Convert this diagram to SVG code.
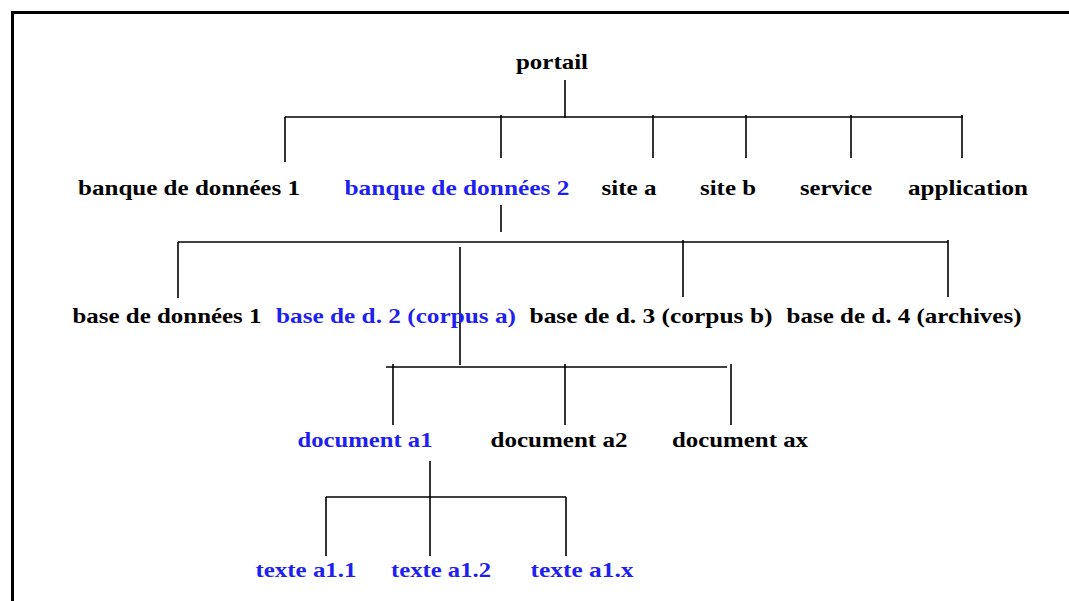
<svg xmlns="http://www.w3.org/2000/svg" width="1069" height="601" viewBox="0 0 1069 601">
<style>
text{font-family:'Liberation Serif', 'DejaVu Serif', serif;font-weight:700;font-size:21px;fill:#000;text-anchor:middle}
text.b{fill:#1f1fef}
.c line{stroke:#000;stroke-width:1.6}
</style>
<rect width="1069" height="601" fill="#fff"/>
<path d="M12.5,601 V12.5 H1069" fill="none" stroke="#000" stroke-width="3"/>
<g class="c" id="connectors">
<line x1="565" y1="80" x2="565" y2="118"/>
<line x1="285" y1="117" x2="963" y2="117"/>
<line x1="285" y1="117" x2="285" y2="162"/>
<line x1="501" y1="115" x2="501" y2="158"/>
<line x1="653" y1="115" x2="653" y2="158"/>
<line x1="746" y1="115" x2="746" y2="158"/>
<line x1="851" y1="115" x2="851" y2="158"/>
<line x1="962" y1="115" x2="962" y2="158"/>
<line x1="501" y1="205" x2="501" y2="232"/>
<line x1="178" y1="242" x2="948" y2="242"/>
<line x1="178" y1="242" x2="178" y2="298"/>
<line x1="460" y1="247" x2="460" y2="365"/>
<line x1="683" y1="240" x2="683" y2="297"/>
<line x1="948" y1="240" x2="948" y2="297"/>
<line x1="386" y1="367" x2="727" y2="367"/>
<line x1="393" y1="364" x2="393" y2="425"/>
<line x1="565" y1="364" x2="565" y2="425"/>
<line x1="731" y1="364" x2="731" y2="425"/>
<line x1="430" y1="461" x2="430" y2="556"/>
<line x1="326" y1="497" x2="566" y2="497"/>
<line x1="326" y1="497" x2="326" y2="556"/>
<line x1="566" y1="497" x2="566" y2="556"/>
</g>
<g id="portail"><text x="552" y="69" textLength="72" lengthAdjust="spacingAndGlyphs">portail</text></g>
<g id="bdd1"><text x="189" y="195" textLength="222" lengthAdjust="spacingAndGlyphs">banque de données 1</text></g>
<g id="bdd2"><text class="b" x="457" y="195" textLength="225" lengthAdjust="spacingAndGlyphs">banque de données 2</text></g>
<g id="sitea"><text x="629" y="195" textLength="55" lengthAdjust="spacingAndGlyphs">site a</text></g>
<g id="siteb"><text x="728" y="195" textLength="56" lengthAdjust="spacingAndGlyphs">site b</text></g>
<g id="service"><text x="836" y="195" textLength="72" lengthAdjust="spacingAndGlyphs">service</text></g>
<g id="application"><text x="968" y="195" textLength="120" lengthAdjust="spacingAndGlyphs">application</text></g>
<g id="base1"><text x="167" y="323" textLength="189" lengthAdjust="spacingAndGlyphs">base de données 1</text></g>
<g id="base2"><text class="b" x="396" y="323" textLength="240" lengthAdjust="spacingAndGlyphs">base de d. 2 (corpus a)</text></g>
<g id="base3"><text x="651" y="323" textLength="243" lengthAdjust="spacingAndGlyphs">base de d. 3 (corpus b)</text></g>
<g id="base4"><text x="904" y="323" textLength="235" lengthAdjust="spacingAndGlyphs">base de d. 4 (archives)</text></g>
<g id="doca1"><text class="b" x="365" y="447" textLength="135" lengthAdjust="spacingAndGlyphs">document a1</text></g>
<g id="doca2"><text x="559" y="447" textLength="137" lengthAdjust="spacingAndGlyphs">document a2</text></g>
<g id="docax"><text x="740" y="447" textLength="136" lengthAdjust="spacingAndGlyphs">document ax</text></g>
<g id="texte1"><text class="b" x="306" y="577" textLength="101" lengthAdjust="spacingAndGlyphs">texte a1.1</text></g>
<g id="texte2"><text class="b" x="441" y="577" textLength="100" lengthAdjust="spacingAndGlyphs">texte a1.2</text></g>
<g id="textex"><text class="b" x="582" y="577" textLength="103" lengthAdjust="spacingAndGlyphs">texte a1.x</text></g>
</svg>
